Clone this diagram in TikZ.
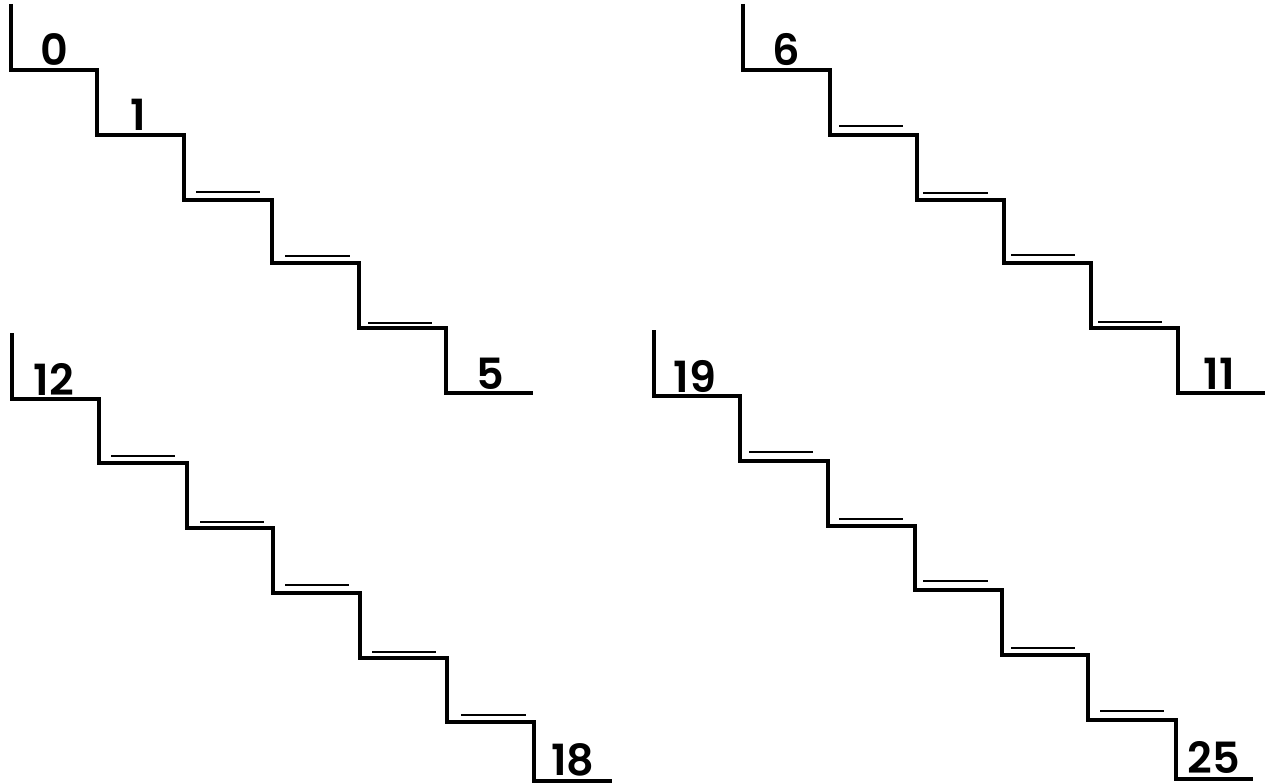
\documentclass[tikz,border=0pt]{standalone}
\usepackage{fontspec}
\setmainfont{Poppins}[UprightFont=* SemiBold]
\begin{document}
\begin{tikzpicture}[x=1pt,y=-1pt,
  stair/.style={line width=3.4pt, line join=miter},
  nosing/.style={line width=1.4pt},
  num/.style={anchor=base, inner sep=0pt, font=\fontsize{43}{43}\selectfont}]
\useasboundingbox (0,0) rectangle (1274,784);
% staircase 1
\draw[stair] (11,4) -- (11,70) -- (97,70) -- (97,135) -- (184,135) -- (184,200) -- (272,200) -- (272,263) -- (359,263) -- (359,328) -- (446,328) -- (446,393) -- (533,393);
\draw[nosing] (196,192) -- (260,192);
\draw[nosing] (285,256) -- (350,256);
\draw[nosing] (368,323) -- (432,323);
\node[num] (n0) at (54,66) {0};
\node[num] (n1) at (138,130) {1};
\node[num] (n5) at (490,389) {5};
% staircase 2
\draw[stair] (743,4) -- (743,70) -- (830,70) -- (830,135) -- (917,135) -- (917,200) -- (1004,200) -- (1004,263) -- (1091,263) -- (1091,328) -- (1178,328) -- (1178,393) -- (1265,393);
\draw[nosing] (839,126) -- (903,126);
\draw[nosing] (923,193) -- (988,193);
\draw[nosing] (1011,255) -- (1075,255);
\draw[nosing] (1098,322) -- (1162,322);
\node[num] (n6) at (786,66) {6};
\node[num] (n11) at (1219,389) {11};
% staircase 3
\draw[stair] (12,333) -- (12,399) -- (99,399) -- (99,463) -- (187,463) -- (187,528) -- (273,528) -- (273,593) -- (360,593) -- (360,658) -- (447,658) -- (447,722) -- (534,722) -- (534,781) -- (612,781);
\draw[nosing] (111,456) -- (175,456);
\draw[nosing] (200,522) -- (264,522);
\draw[nosing] (285,585) -- (349,585);
\draw[nosing] (372,652) -- (436,652);
\draw[nosing] (461,715) -- (526,715);
\node[num] (n12) at (54,395) {12};
\node[num] (n18) at (573,775) {18};
% staircase 4
\draw[stair] (654,330) -- (654,396) -- (740,396) -- (740,461) -- (828,461) -- (828,526) -- (915,526) -- (915,590) -- (1002,590) -- (1002,655) -- (1088,655) -- (1088,720) -- (1176,720) -- (1176,779) -- (1253,779);
\draw[nosing] (749,452) -- (813,452);
\draw[nosing] (839,519) -- (903,519);
\draw[nosing] (923,581) -- (988,581);
\draw[nosing] (1011,648) -- (1075,648);
\draw[nosing] (1100,711) -- (1164,711);
\node[num] (n19) at (695,392) {19};
\node[num] (n25) at (1214,773) {25};
\end{tikzpicture}
\end{document}
